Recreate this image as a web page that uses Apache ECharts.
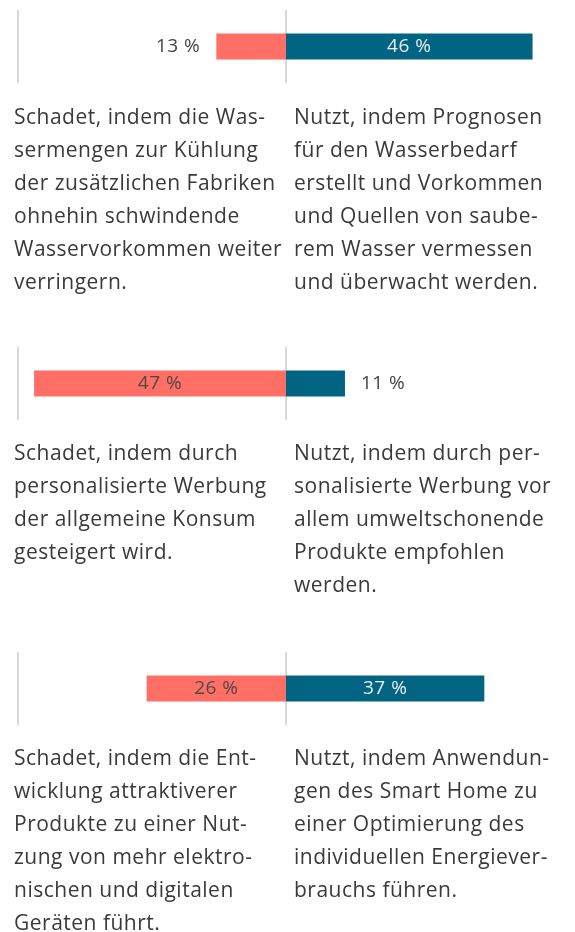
<!DOCTYPE html>
<html>
<head>
    <meta http-equiv="Content-Type" content="text/html; charset=utf-8" />
    <title>Schadet / Nutzt</title>
    <script src="https://cdn.jsdelivr.net/npm/echarts@6/dist/echarts.min.js"></script>
    <style>
        html, body { margin: 0; padding: 0; background: #fff; }
    </style>
</head>
<body>
    <div id="main" style="width: 575px;height:932px;"></div>
    <script type="text/javascript">

    // Themen (eine Zeile pro Block)
    var topics = ['Wasser', 'Werbung', 'Smart Home'];
    // Anteil "schadet" in %
    var schadet = [13, 47, 26];
    // Anteil "nutzt" in %
    var nutzt = [46, 11, 37];

    // Erklärtexte, Zeile für Zeile wie im Original umbrochen
    var textSchadet = [
        ['Schadet, indem die Was-', 'sermengen zur Kühlung', 'der zusätzlichen Fabriken', 'ohnehin schwindende', 'Wasservorkommen weiter', 'verringern.'],
        ['Schadet, indem durch', 'personalisierte Werbung', 'der allgemeine Konsum', 'gesteigert wird.'],
        ['Schadet, indem die Ent-', 'wicklung attraktiverer', 'Produkte zu einer Nut-', 'zung von mehr elektro-', 'nischen und digitalen', 'Geräten führt.']
    ];
    var textNutzt = [
        ['Nutzt, indem Prognosen', 'für den Wasserbedarf', 'erstellt und Vorkommen', 'und Quellen von saube-', 'rem Wasser vermessen', 'und überwacht werden.'],
        ['Nutzt, indem durch per-', 'sonalisierte Werbung vor', 'allem umweltschonende', 'Produkte empfohlen', 'werden.'],
        ['Nutzt, indem Anwendun-', 'gen des Smart Home zu', 'einer Optimierung des', 'individuellen Energiever-', 'brauchs führen.']
    ];

    var FONT = 'Open Sans';
    var RED = '#ff6f66';
    var BLUE = '#006482';
    var GRID_TOP = [10, 347, 652];
    var TEXT_TOP = [118, 454, 759];
    var LINE_H = 33;

    var myChart = echarts.init(document.getElementById('main'), null, { renderer: 'canvas' });

    var grids = [], xAxes = [], yAxes = [], series = [], graphics = [];

    function barLabel(v, side, inColor) {
        // kleine Werte stehen neben dem Balken
        var outside = v < 15;
        return {
            show: true,
            position: outside ? side : 'inside',
            distance: 16,
            color: outside ? '#444' : inColor,
            fontFamily: FONT,
            fontSize: 19,
            formatter: function (p) { return Math.abs(p.value) + ' %'; }
        };
    }

    for (var i = 0; i < topics.length; i++) {
        grids.push({ left: 18, right: 21, top: GRID_TOP[i], height: 73 });
        xAxes.push({
            type: 'value', gridIndex: i,
            min: -50, max: 50, interval: 50,
            axisLabel: { show: false }, axisTick: { show: false }, axisLine: { show: false },
            splitLine: {
                show: true, showMaxLine: false,
                lineStyle: { color: ['#d9d9d9', '#d9d9d9', 'rgba(0,0,0,0)'], width: 2 }
            }
        });
        yAxes.push({
            type: 'category', gridIndex: i, data: [topics[i]],
            axisLabel: { show: false }, axisTick: { show: false }, axisLine: { show: false }
        });
        series.push({
            name: 'schadet', type: 'bar', xAxisIndex: i, yAxisIndex: i, stack: 's' + i,
            barWidth: 26, silent: true,
            itemStyle: { color: RED },
            label: barLabel(schadet[i], 'left', '#4a4a4a'),
            data: [-schadet[i]]
        });
        series.push({
            name: 'nutzt', type: 'bar', xAxisIndex: i, yAxisIndex: i, stack: 's' + i,
            barWidth: 26, silent: true,
            itemStyle: { color: BLUE },
            label: barLabel(nutzt[i], 'right', '#eaf0f3'),
            data: [nutzt[i]]
        });

        textSchadet[i].forEach(function (line, k) {
            graphics.push({
                type: 'text', left: 14, top: TEXT_TOP[i] + k * LINE_H - 10,
                style: { text: line, fill: '#3a3a3a', font: '21px "' + FONT + '"' }
            });
        });
        textNutzt[i].forEach(function (line, k) {
            graphics.push({
                type: 'text', left: 294, top: TEXT_TOP[i] + k * LINE_H - 10,
                style: { text: line, fill: '#3a3a3a', font: '21px "' + FONT + '"' }
            });
        });
    }

    var option = {
        animation: false,
        grid: grids,
        xAxis: xAxes,
        yAxis: yAxes,
        series: series,
        graphic: graphics
    };

    myChart.setOption(option);

    // etwas Sperrung wie im Original: die Canvas gibt es erst nach dem ersten Zeichnen,
    // danach noch einmal komplett neu zeichnen
    var cv = myChart.getDom().querySelector('canvas');
    if (cv) {
        cv.getContext('2d').letterSpacing = '0.5px';
        myChart.setOption(option, true);
    }
    </script>
</body>
</html>
